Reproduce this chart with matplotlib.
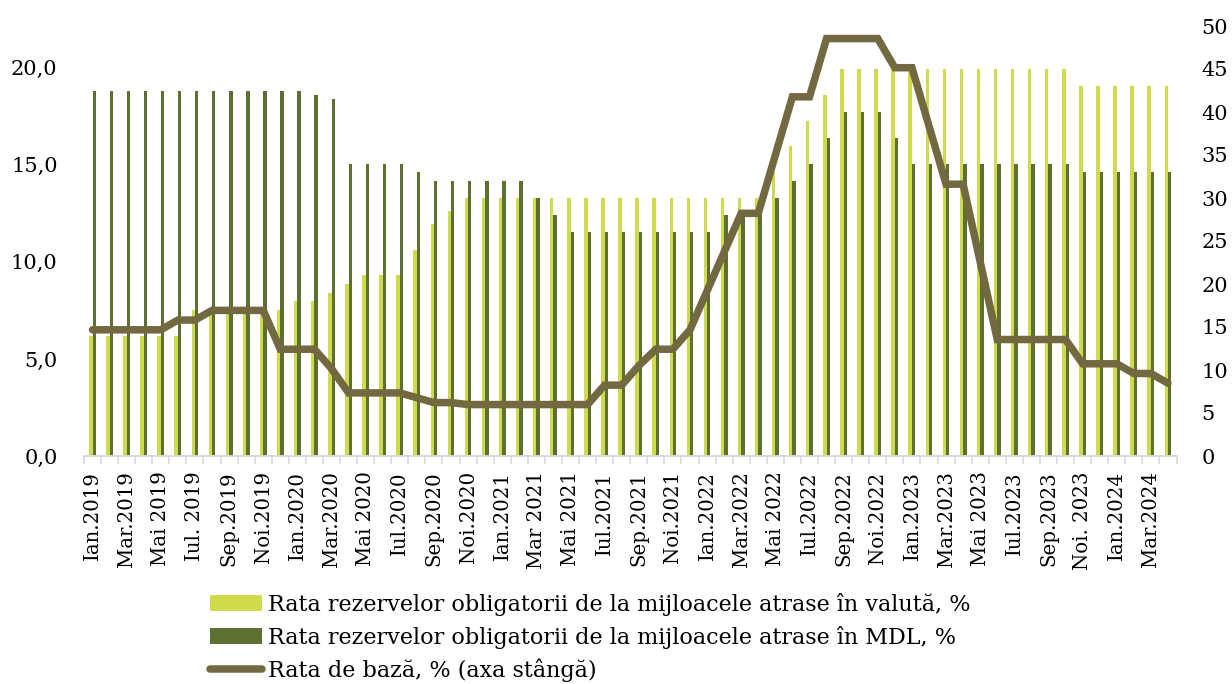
import matplotlib
matplotlib.use("Agg")
import matplotlib.pyplot as plt
import numpy as np
from matplotlib.patches import Patch
from matplotlib.lines import Line2D
from matplotlib.ticker import FuncFormatter, FixedLocator

plt.rcParams['font.family'] = ['DejaVu Serif']

tick_labels = ["Ian.2019", "Mar.2019", "Mai 2019", "Iul. 2019", "Sep.2019", "Noi.2019",
               "Ian.2020", "Mar.2020", "Mai 2020", "Iul.2020", "Sep.2020", "Noi.2020",
               "Ian.2021", "Mar 2021", "Mai 2021", "Iul.2021", "Sep.2021", "Noi.2021",
               "Ian.2022", "Mar.2022", "Mai 2022", "Iul.2022", "Sep.2022", "Noi.2022",
               "Ian.2023", "Mar.2023", "Mai 2023", "Iul.2023", "Sep.2023", "Noi. 2023",
               "Ian.2024", "Mar.2024"]

# monthly, Jan 2019 .. Apr 2024 (64 months)
rr_valuta = [14, 14, 14, 14, 14, 14, 17, 17, 17, 17, 17, 17,
             18, 18, 19, 20, 21, 21, 21, 24, 27, 28.5, 30, 30,
             30, 30, 30, 30, 30, 30, 30, 30, 30, 30, 30, 30,
             30, 30, 30, 30, 33, 36, 39, 42, 45, 45, 45, 45,
             45, 45, 45, 45, 45, 45, 45, 45, 45, 45, 43, 43,
             43, 43, 43, 43]
rr_mdl = [42.5, 42.5, 42.5, 42.5, 42.5, 42.5, 42.5, 42.5, 42.5, 42.5, 42.5, 42.5,
          42.5, 42, 41.5, 34, 34, 34, 34, 33, 32, 32, 32, 32,
          32, 32, 30, 28, 26, 26, 26, 26, 26, 26, 26, 26,
          26, 28, 28, 28, 30, 32, 34, 37, 40, 40, 40, 37,
          34, 34, 34, 34, 34, 34, 34, 34, 34, 34, 33, 33,
          33, 33, 33, 33]
rata_baza = [6.5, 6.5, 6.5, 6.5, 6.5, 7.0, 7.0, 7.5, 7.5, 7.5, 7.5, 5.5,
             5.5, 5.5, 4.5, 3.25, 3.25, 3.25, 3.25, 3.0, 2.75, 2.75, 2.65, 2.65,
             2.65, 2.65, 2.65, 2.65, 2.65, 2.65, 3.65, 3.65, 4.65, 5.5, 5.5, 6.5,
             8.5, 10.5, 12.5, 12.5, 15.5, 18.5, 18.5, 21.5, 21.5, 21.5, 21.5, 20.0,
             20.0, 17.0, 14.0, 14.0, 10.0, 6.0, 6.0, 6.0, 6.0, 6.0, 4.75, 4.75,
             4.75, 4.25, 4.25, 3.75]

labels_legend = ["Rata rezervelor obligatorii de la mijloacele atrase în valută, %",
                 "Rata rezervelor obligatorii de la mijloacele atrase în MDL, %",
                 "Rata de bază, % (axa stângă)"]

c_light = "#cfdb4c"
c_dark = "#5d7031"
c_line = "#736941"

n = len(rr_mdl)
x = np.arange(n)

fig = plt.figure(figsize=(12.32, 6.84), dpi=100)
ax = fig.add_axes([84/1232, 1-456/684, (1176.5-84)/1232, (456-26)/684])
ax2 = ax.twinx()

# bars on primary axes (shown on right side)
bw = 0.2
ax.bar(x - bw/2, rr_valuta, width=bw, color=c_light, zorder=2)
ax.bar(x + bw/2, rr_mdl, width=bw, color=c_dark, zorder=2)
ax.set_ylim(0, 50)
ax.set_yticks(np.arange(0, 51, 5))
ax.yaxis.tick_right()
ax.tick_params(axis='y', length=0, labelsize=15, pad=18)
ax.set_xlim(-0.5, n - 0.5)

# line on twin axes (shown on left side)
ax2.plot(x, rata_baza, color=c_line, lw=5.4, solid_capstyle='round',
         solid_joinstyle='miter', zorder=3)
ax2.set_ylim(0, 50 * 8.62 / 19.46)
ax2.set_yticks(np.arange(0, 21, 5))
ax2.yaxis.tick_left()
ax2.yaxis.set_major_formatter(FuncFormatter(lambda v, p: f"{v:.1f}".replace(".", ",")))
ax2.tick_params(axis='y', length=0, labelsize=15, pad=19)

for a in (ax, ax2):
    for s in ("top", "left", "right"):
        a.spines[s].set_visible(False)
    a.spines["bottom"].set_color("#d9d9d9")
    a.spines["bottom"].set_linewidth(1.2)

ax.set_xticks(np.arange(0, n, 2))
ax.set_xticklabels(tick_labels, rotation=90, fontsize=14.2)
ax.xaxis.set_minor_locator(FixedLocator(np.arange(-0.5, n, 1)))
ax.tick_params(axis='x', which='major', length=0, pad=11)
ax.tick_params(axis='x', which='minor', length=6, color="#d9d9d9", width=1.2)

handles = [Patch(facecolor=c_light, edgecolor='none'),
           Patch(facecolor=c_dark, edgecolor='none'),
           Line2D([0], [0], color=c_line, lw=5.4, solid_capstyle='round')]
fig.legend(handles, labels_legend, loc='upper left',
           bbox_to_anchor=(210/1232, 1 - 593/684), frameon=False,
           fontsize=16, handlelength=2.34, handletextpad=0.27,
           labelspacing=0.44, borderpad=0, borderaxespad=0)

fig.savefig("out.png", dpi=100)
